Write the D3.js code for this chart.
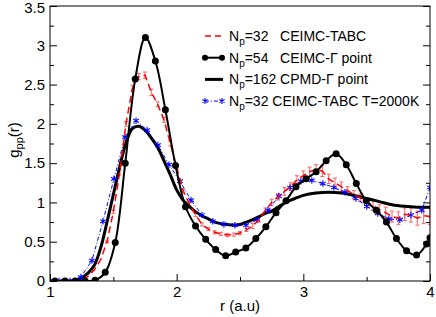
<!DOCTYPE html>
<html lang="en">
<head>
<meta charset="UTF-8">
<title>g_pp(r)</title>
<script src="https://cdn.jsdelivr.net/npm/d3@7"></script>
<style>
  body { margin: 0; background: #fff; }
  svg { display: block; font-family: "Liberation Sans", Arial, sans-serif; }
  .tick text { font-size: 15px; fill: #000; }
  .legend text { font-size: 14px; white-space: pre; }
</style>
</head>
<body>
<svg width="436" height="317"></svg>
<script>
// Np=32 CEIMC-TABC (red dashed, with error bars)
const rA = [1.0,1.1,1.2,1.25,1.3,1.35,1.4,1.45,1.5,1.55,1.6,1.65,1.7,1.75,1.8,1.85,1.9,1.95,2.0,2.05,2.1,2.15,2.2,2.25,2.3,2.35,2.4,2.45,2.5,2.55,2.6,2.65,2.7,2.75,2.8,2.85,2.9,2.95,3.0,3.05,3.1,3.15,3.2,3.25,3.3,3.35,3.4,3.45,3.5,3.55,3.6,3.65,3.7,3.75,3.8,3.85,3.9,3.95,4.0];
const gA = [0,0,0,0.01,0.06,0.14,0.27,0.5,0.88,1.38,2.0,2.45,2.6,2.62,2.4,2.25,2.05,1.75,1.45,1.15,0.98,0.84,0.72,0.66,0.62,0.6,0.585,0.59,0.61,0.65,0.7,0.78,0.9,1.0,1.07,1.14,1.2,1.29,1.34,1.39,1.42,1.4,1.3,1.25,1.2,1.15,1.1,1.06,1.01,0.96,0.91,0.87,0.82,0.8,0.85,0.84,0.8,0.83,0.82];
const errA = [0,0,0,0,0,0,0,0.01,0.02,0.03,0.03,0.04,0.04,0.04,0.04,0.03,0.03,0.03,0.03,0.02,0.02,0.02,0.02,0.02,0.02,0.02,0.02,0.02,0.02,0.02,0.03,0.03,0.03,0.04,0.04,0.05,0.05,0.05,0.06,0.06,0.06,0.07,0.06,0.06,0.06,0.05,0.05,0.05,0.05,0.06,0.06,0.07,0.07,0.08,0.08,0.09,0.09,0.1,0.1];

// Np=54 CEIMC-Gamma point (black with circles)
const rB = [1.039,1.118,1.198,1.277,1.356,1.436,1.515,1.594,1.673,1.753,1.832,1.911,1.991,2.070,2.149,2.229,2.308,2.387,2.466,2.546,2.625,2.704,2.784,2.863,2.942,3.022,3.101,3.180,3.259,3.339,3.418,3.497,3.577,3.656,3.735,3.815,3.894,3.973,4.0];
const gB = [0,0,0,0,0.01,0.11,0.49,1.5,2.57,3.1,2.8,2.18,1.47,0.945,0.7,0.53,0.4,0.32,0.37,0.42,0.54,0.69,0.87,1.02,1.2,1.3,1.39,1.53,1.62,1.48,1.24,1.02,0.9,0.75,0.54,0.385,0.33,0.47,0.55];

// Np=32 CEIMC-TABC T=2000K (blue stars)
const rC = [1.0,1.071,1.158,1.244,1.331,1.418,1.505,1.592,1.679,1.766,1.852,1.939,2.026,2.113,2.2,2.286,2.373,2.46,2.547,2.634,2.72,2.807,2.894,2.981,3.067,3.154,3.241,3.328,3.415,3.501,3.588,3.675,3.762,3.849,3.935,4.0];
const gC = [0,0,0,0.05,0.26,0.76,1.3,1.83,2.04,1.92,1.73,1.48,1.27,1.03,0.84,0.76,0.72,0.71,0.71,0.78,0.9,1.08,1.19,1.27,1.28,1.24,1.19,1.13,1.05,0.95,0.86,0.79,0.78,0.84,0.9,1.19];

// Np=162 CPMD-Gamma point (thick black)
const rD = [1.0,1.15,1.2,1.25,1.3,1.35,1.4,1.45,1.5,1.55,1.6,1.65,1.7,1.75,1.8,1.85,1.9,1.95,2.0,2.05,2.1,2.15,2.2,2.25,2.3,2.35,2.4,2.45,2.5,2.55,2.6,2.65,2.7,2.75,2.8,2.85,2.9,2.95,3.0,3.1,3.2,3.3,3.4,3.5,3.6,3.7,3.8,3.9,4.0];
const gD = [0,0,0.01,0.04,0.1,0.2,0.42,0.75,1.1,1.45,1.76,1.94,1.97,1.92,1.82,1.7,1.53,1.35,1.16,1.03,0.95,0.88,0.83,0.79,0.75,0.73,0.72,0.71,0.72,0.75,0.78,0.82,0.86,0.89,0.94,0.99,1.03,1.06,1.09,1.12,1.13,1.12,1.09,1.05,1.01,0.97,0.95,0.94,0.94];

const xTicks = [1, 2, 3, 4];
const yTicks = [0, 0.5, 1, 1.5, 2, 2.5, 3, 3.5];

const svg = d3.select("svg");
const x = d3.scaleLinear().domain([1, 4]).range([50, 430]);
const y = d3.scaleLinear().domain([0, 3.5]).range([281, 6]);

const zip = (rs, gs) => rs.map((r, i) => ({ r: r, g: gs[i] }));

svg.append("clipPath").attr("id", "clip")
  .append("rect").attr("x", 50).attr("y", 6).attr("width", 380).attr("height", 275);

const plot = svg.append("g").attr("clip-path", "url(#clip)");

// red error bars
const dataA = zip(rA, gA).map((d, i) => ({ r: d.r, g: d.g, e: errA[i] }));
plot.append("g").selectAll("g")
  .data(dataA.filter(d => d.e > 0))
  .enter().append("g")
  .attr("stroke", "#ff6060").attr("stroke-width", 1)
  .each(function (d) {
    const g = d3.select(this);
    g.append("line").attr("x1", x(d.r)).attr("x2", x(d.r)).attr("y1", y(d.g - d.e)).attr("y2", y(d.g + d.e));
    g.append("line").attr("x1", x(d.r) - 2).attr("x2", x(d.r) + 2).attr("y1", y(d.g + d.e)).attr("y2", y(d.g + d.e));
    g.append("line").attr("x1", x(d.r) - 2).attr("x2", x(d.r) + 2).attr("y1", y(d.g - d.e)).attr("y2", y(d.g - d.e));
  });

const line = d3.line().x(d => x(d.r)).y(d => y(d.g));
const smooth = d3.line().x(d => x(d.r)).y(d => y(d.g)).curve(d3.curveCatmullRom);

// thick black CPMD
plot.append("path").datum(zip(rD, gD))
  .attr("d", smooth).attr("fill", "none").attr("stroke", "#000").attr("stroke-width", 3);

// blue T=2000K
plot.append("path").datum(zip(rC, gC))
  .attr("d", line).attr("fill", "none").attr("stroke", "#0000ff").attr("stroke-width", 1)
  .attr("stroke-dasharray", "4,2,1,2");
plot.append("g").selectAll("path")
  .data(zip(rC, gC))
  .enter().append("path")
  .attr("transform", d => `translate(${x(d.r)},${y(d.g)})`)
  .attr("d", d3.symbol(d3.symbolAsterisk, 30))
  .attr("fill", "none").attr("stroke", "#0000ff").attr("stroke-width", 1.1);

// red dashed TABC
plot.append("path").datum(dataA)
  .attr("d", line).attr("fill", "none").attr("stroke", "#ff0000").attr("stroke-width", 1.5)
  .attr("stroke-dasharray", "7,4");

// black with circles
plot.append("path").datum(zip(rB, gB))
  .attr("d", smooth).attr("fill", "none").attr("stroke", "#000").attr("stroke-width", 2);
plot.append("g").selectAll("circle")
  .data(zip(rB, gB))
  .enter().append("circle")
  .attr("cx", d => x(d.r)).attr("cy", d => y(d.g)).attr("r", 3.5).attr("fill", "#000");

// axes: major and minor ticks pointing inward
svg.append("g").attr("transform", "translate(0,281)")
  .call(d3.axisBottom(x).tickValues(xTicks).tickSize(-7).tickPadding(5).tickFormat(d3.format("d")))
  .call(g => g.select(".domain").remove());
svg.append("g").attr("transform", "translate(0,281)")
  .call(d3.axisBottom(x).tickValues([1.5, 2.5, 3.5]).tickSize(-4).tickFormat(""))
  .call(g => g.select(".domain").remove());
svg.append("g").attr("class", "yaxis").attr("transform", "translate(50,0)")
  .call(d3.axisLeft(y).tickValues(yTicks).tickSize(-7).tickPadding(5).tickFormat(d => d))
  .call(g => g.select(".domain").remove())
  .call(g => g.selectAll(".tick text").filter(d => d === 3.5).attr("dy", "0.45em"));
svg.append("g").attr("transform", "translate(50,0)")
  .call(d3.axisLeft(y).tickValues(d3.range(0.25, 3.5, 0.5)).tickSize(-4).tickFormat(""))
  .call(g => g.select(".domain").remove());
svg.append("g").attr("transform", "translate(430,0)")
  .call(d3.axisRight(y).tickValues(yTicks).tickSize(-7).tickFormat(""))
  .call(g => g.select(".domain").remove());
svg.append("g").attr("transform", "translate(430,0)")
  .call(d3.axisRight(y).tickValues(d3.range(0.25, 3.5, 0.5)).tickSize(-4).tickFormat(""))
  .call(g => g.select(".domain").remove());
svg.selectAll(".tick line").attr("stroke", "#000");

svg.append("rect").attr("x", 50).attr("y", 6).attr("width", 380).attr("height", 275)
  .attr("fill", "none").attr("stroke", "#000").attr("stroke-width", 1);

// axis titles
svg.append("text").attr("x", 240).attr("y", 311).attr("text-anchor", "middle")
  .attr("font-size", 15).text("r (a.u)");
const yl = svg.append("text").attr("transform", "translate(19,140) rotate(-90)")
  .attr("text-anchor", "middle").attr("font-size", 15);
yl.append("tspan").text("g");
yl.append("tspan").attr("font-size", 11).attr("dy", 4).text("pp");
yl.append("tspan").attr("dy", -4).text("(r)");

// legend
const legendRows = [
  { rest: "=32   CEIMC-TABC", key: "A" },
  { rest: "=54   CEIMC-\u0393 point", key: "B" },
  { rest: "=162 CPMD-\u0393 point", key: "D" },
  { rest: "=32 CEIMC-TABC T=2000K", key: "C" }
];
const lg = svg.append("g").attr("class", "legend");
legendRows.forEach((row, i) => {
  const by = 41 + i * 21.7;
  const sy = by - 5;
  const g = lg.append("g");
  if (row.key === "A") {
    g.append("line").attr("x1", 205).attr("x2", 224).attr("y1", sy).attr("y2", sy)
      .attr("stroke", "#ff0000").attr("stroke-width", 1.5).attr("stroke-dasharray", "6,4");
  } else if (row.key === "B") {
    g.append("line").attr("x1", 205).attr("x2", 222).attr("y1", sy).attr("y2", sy)
      .attr("stroke", "#000").attr("stroke-width", 2);
    g.selectAll("circle").data([205, 222]).enter().append("circle")
      .attr("cx", d => d).attr("cy", sy).attr("r", 3).attr("fill", "#000");
  } else if (row.key === "D") {
    g.append("line").attr("x1", 205).attr("x2", 223).attr("y1", sy).attr("y2", sy)
      .attr("stroke", "#000").attr("stroke-width", 3);
  } else {
    g.append("line").attr("x1", 205).attr("x2", 222).attr("y1", sy).attr("y2", sy)
      .attr("stroke", "#0000ff").attr("stroke-width", 1).attr("stroke-dasharray", "4,2,1,2");
    g.selectAll("path").data([205, 222]).enter().append("path")
      .attr("transform", d => `translate(${d},${sy})`)
      .attr("d", d3.symbol(d3.symbolAsterisk, 25))
      .attr("fill", "none").attr("stroke", "#0000ff").attr("stroke-width", 1.1);
  }
  const t = g.append("text").attr("x", 229).attr("y", by);
  t.append("tspan").text("N");
  t.append("tspan").attr("font-size", 10).attr("dy", 4).text("p");
  t.append("tspan").attr("dy", -4).text(row.rest);
});
</script>
</body>
</html>
